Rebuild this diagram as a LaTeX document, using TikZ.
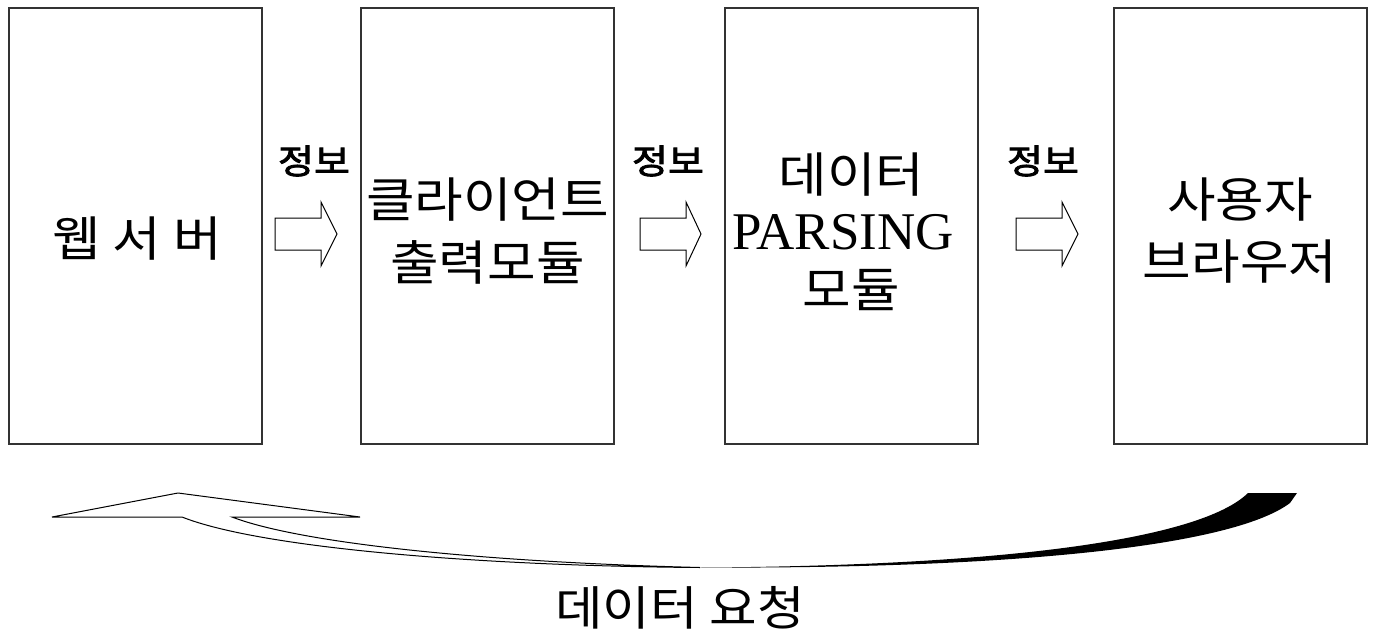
\documentclass[tikz,border=0pt]{standalone}
\usepackage{fontspec}
\newfontfamily\kr[FakeStretch=1.1]{Noto Sans CJK KR}
\newfontfamily\krb[FakeBold=2.5,FakeStretch=1.15]{Noto Sans CJK KR}
\setmainfont{Liberation Serif}
\begin{document}
\begin{tikzpicture}[x=1pt,y=-1pt,
  box/.style={draw=black!80,line width=2pt,minimum width=253pt,minimum height=436pt,inner sep=0pt},
  txt/.style={inner sep=0pt,font=\kr\fontsize{48}{52}\selectfont},
  lbl/.style={inner sep=0pt,font=\krb\fontsize{34}{38}\selectfont},
  blk/.style={draw=black,line width=1pt,fill=white,line join=miter}]
\useasboundingbox (0,0) rectangle (1375,642);
% boxes
\node[box] (b1) at (135,226) {};
\node[box] (b2) at (487.5,226) {};
\node[box] (b3) at (851.5,226) {};
\node[box] (b4) at (1240,226) {};
% box texts
\node[txt] (t1) at (137,239) {웹 서 버};
\node[txt] (t2a) at (487.5,200) {클라이언트};
\node[txt] (t2b) at (487.5,262) {출력모듈};
\node[txt] (t3a) at (851.5,175) {데이터};
\node[inner sep=0pt,font=\fontsize{53}{56}\selectfont] (t3b) at (843,232) {PARSING};
\node[txt] (t3c) at (851.5,290) {모듈};
\node[txt] (t4a) at (1240,200) {사용자};
\node[txt] (t4b) at (1240,262) {브라우저};
% labels
\node[lbl] (l1) at (314,161) {정보};
\node[lbl] (l2) at (668,161) {정보};
\node[lbl] (l3) at (1043,161) {정보};
% block arrows
\draw[blk] (275,218) -- (321,218) -- (321,202) -- (337,234) -- (321,266) -- (321,250) -- (275,250) -- cycle;
\draw[blk] (640,218) -- (686,218) -- (686,202) -- (701,234) -- (686,266) -- (686,250) -- (640,250) -- cycle;
\draw[blk] (1016,218) -- (1062,218) -- (1062,202) -- (1078,234) -- (1062,266) -- (1062,250) -- (1016,250) -- cycle;
% curved arrow
\coordinate (cross) at (700,567.5);
\fill[black] (cross) .. controls (1000,566) and (1200,540) .. (1248,493)
  -- (1297,493) -- (1290,503)
  .. controls (1230,548) and (1000,569) .. (cross) -- cycle;
\draw[line width=1pt,fill=white,line join=miter] (52,517) -- (178,493) -- (360,517) -- (232,517)
  .. controls (300,543) and (480,562) .. (cross)
  .. controls (480,566) and (260,548) .. (182,517) -- cycle;
\node[txt,font=\kr\fontsize{47}{50}\selectfont] (req) at (680,608) {데이터 요청};
\end{tikzpicture}
\end{document}
